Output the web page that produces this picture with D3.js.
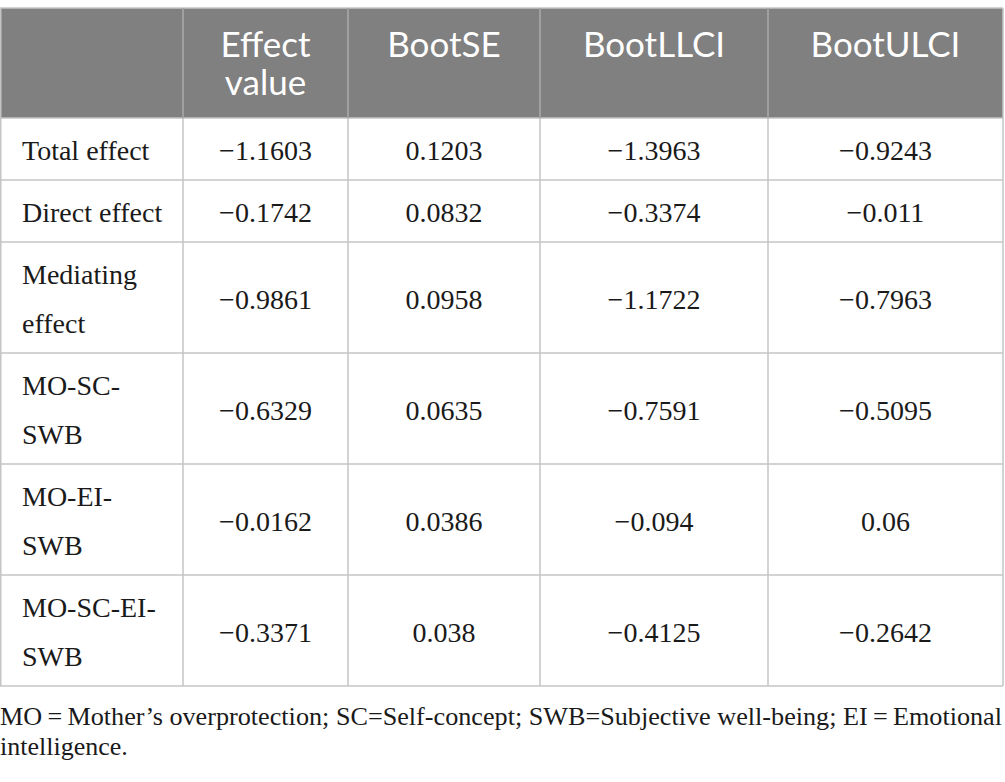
<!DOCTYPE html>
<html>
<head>
<meta charset="utf-8">
<script src="https://cdn.jsdelivr.net/npm/d3@7"></script>
<style>
  body { margin: 0; background: #fff; }
</style>
</head>
<body>
<div id="tableWrapper"></div>
<script>
// table content
var headerLabels = [[""], ["Effect", "value"], ["BootSE"], ["BootLLCI"], ["BootULCI"]];
var rowLabels = [["Total effect"], ["Direct effect"], ["Mediating", "effect"], ["MO-SC-", "SWB"], ["MO-EI-", "SWB"], ["MO-SC-EI-", "SWB"]];
var effectValue = [-1.1603, -0.1742, -0.9861, -0.6329, -0.0162, -0.3371];
var bootSE = [0.1203, 0.0832, 0.0958, 0.0635, 0.0386, 0.038];
var bootLLCI = [-1.3963, -0.3374, -1.1722, -0.7591, -0.094, -0.4125];
var bootULCI = [-0.9243, -0.011, -0.7963, -0.5095, 0.06, -0.2642];
var footLines = ["MO\u2009=\u2009Mother\u2019s overprotection; SC=Self-concept; SWB=Subjective well-being; EI\u2009=\u2009Emotional", "intelligence."];

// layout
var fullWidth = 1005, fullHeight = 782;
var tableTop = 8, headerHeight = 110;
var colWidths = [183, 165, 192, 228, 235];
var baseRowHeight = 62, lineStep = 49;
var gridColor = "#c4c4c4";

var svg = d3.select("#tableWrapper")
  .append("svg")
  .attr("width", fullWidth)
  .attr("height", fullHeight);

// column edges from widths
var colEdges = [0].concat(Array.from(d3.cumsum(colWidths)));
var tableRight = colEdges[colEdges.length - 1];

// row edges from line counts
var rowHeights = rowLabels.map(function(l) { return baseRowHeight + (l.length - 1) * lineStep; });
var rowEdges = [tableTop + headerHeight].concat(Array.from(d3.cumsum(rowHeights), function(h) { return tableTop + headerHeight + h; }));
var tableBottom = rowEdges[rowEdges.length - 1];

function fmt(v) {
  return String(v).replace("-", "\u2212");
}

var valueCols = [effectValue, bootSE, bootLLCI, bootULCI];

// header background
svg.append("rect")
  .attr("x", 0)
  .attr("y", tableTop)
  .attr("width", tableRight)
  .attr("height", headerHeight)
  .attr("fill", "#808080");

// header labels
headerLabels.forEach(function(lines, c) {
  var cx = (colEdges[c] + colEdges[c + 1]) / 2;
  lines.forEach(function(t, i) {
    svg.append("text")
      .attr("x", cx)
      .attr("y", tableTop + 49 + i * 38)
      .attr("text-anchor", "middle")
      .style("font-family", "Lato, 'Open Sans', sans-serif")
      .style("font-size", "35px")
      .style("fill", "#ffffff")
      .text(t);
  });
});

// body rows
rowLabels.forEach(function(lines, r) {
  var cy = (rowEdges[r] + rowEdges[r + 1]) / 2;
  var n = lines.length;
  lines.forEach(function(t, i) {
    svg.append("text")
      .attr("x", 22)
      .attr("y", cy + 11 + (i - (n - 1) / 2) * lineStep)
      .style("font-family", "'Liberation Serif', 'DejaVu Serif', serif")
      .style("font-size", "28px")
      .style("fill", "#1a1a1a")
      .text(t);
  });
  valueCols.forEach(function(col, c) {
    svg.append("text")
      .attr("x", (colEdges[c + 1] + colEdges[c + 2]) / 2)
      .attr("y", cy + 11)
      .attr("text-anchor", "middle")
      .style("font-family", "'Liberation Serif', 'DejaVu Serif', serif")
      .style("font-size", "28px")
      .style("fill", "#1a1a1a")
      .text(fmt(col[r]));
  });
});

// grid lines
var grid = svg.append("g").attr("stroke", gridColor).attr("stroke-width", 1.5);
// horizontal
grid.selectAll("line.h")
  .data([tableTop].concat(rowEdges))
  .enter().append("line")
  .attr("class", "h")
  .attr("x1", 0).attr("x2", tableRight)
  .attr("y1", function(d) { return d; })
  .attr("y2", function(d) { return d; });
// vertical
grid.selectAll("line.v")
  .data(colEdges)
  .enter().append("line")
  .attr("class", "v")
  .attr("x1", function(d) { return Math.max(d, 0.75); })
  .attr("x2", function(d) { return Math.max(d, 0.75); })
  .attr("y1", tableTop)
  .attr("y2", tableBottom);

// lighter separators inside the header
svg.selectAll("line.hv")
  .data(colEdges.slice(1, -1))
  .enter().append("line")
  .attr("x1", function(d) { return d; })
  .attr("x2", function(d) { return d; })
  .attr("y1", tableTop)
  .attr("y2", tableTop + headerHeight)
  .attr("stroke", "#9a9a9a")
  .attr("stroke-width", 1.5);

// footnote
footLines.forEach(function(t, i) {
  var txt = svg.append("text")
    .attr("x", 0)
    .attr("y", 725 + i * 30)
    .style("font-family", "'Liberation Serif', 'DejaVu Serif', serif")
    .style("font-size", "26px")
    .style("fill", "#1a1a1a")
    .text(t);
  if (i == 0) {
    txt.attr("textLength", 1002).attr("lengthAdjust", "spacingAndGlyphs");
  }
});
</script>
</body>
</html>
